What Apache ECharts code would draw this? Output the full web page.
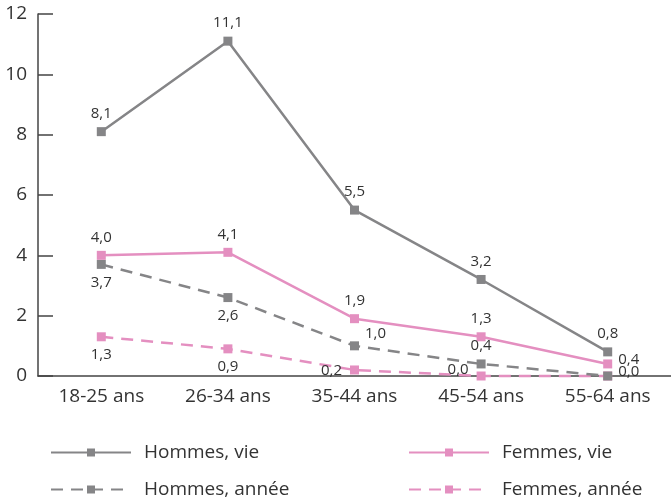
<!DOCTYPE html>
<html>
<head>
<meta charset="utf-8">
<script src="https://cdn.jsdelivr.net/npm/echarts@6/dist/echarts.min.js"></script>
<style>
  html, body { margin: 0; padding: 0; background: #fff; }
  #chart { width: 671px; height: 500px; }
</style>
</head>
<body>
<div id="chart"></div>
<script>
const categories = ['18-25 ans', '26-34 ans', '35-44 ans', '45-54 ans', '55-64 ans']
const hommesVie = [8.1, 11.1, 5.5, 3.2, 0.8]
const femmesVie = [4.0, 4.1, 1.9, 1.3, 0.4]
const hommesAnnee = [3.7, 2.6, 1.0, 0.4, 0.0]
const femmesAnnee = [1.3, 0.9, 0.2, 0.0, 0.0]

const GREY = '#858587'
const PINK = '#e48fc0'
const FONT = 'Open Sans'

// label placement per point (null = hidden)
const placements = {
  hv: ['top', 'top', 'top', 'top', 'top'],
  fv: ['top', 'top', 'top', 'top', 'right'],
  ha: ['bottom', 'bottom', 'topRight', 'top', null],
  fa: ['bottom', 'bottom', 'left', 'topLeft', 'right']
}

const labelFor = (pos) => {
  if (!pos) return { show: false }
  const base = { show: true, color: '#333', fontSize: 15, fontFamily: FONT, distance: 6 }
  if (pos === 'topRight') return { ...base, position: 'right', offset: [0, -12] }
  if (pos === 'topLeft') return { ...base, position: 'left', offset: [-2, -6] }
  if (pos === 'left') return { ...base, position: 'left', offset: [-2, 1] }
  if (pos === 'right') return { ...base, position: 'right', offset: [0, -4] }
  return { ...base, position: pos }
}

const fmt = (v) => v.toFixed(1).replace('.', ',')

const makeSeries = (name, values, color, dashed, key) => ({
  name,
  type: 'line',
  data: values.map((v, i) => ({ value: v, label: labelFor(placements[key][i]) })),
  symbol: 'rect',
  symbolSize: 9,
  clip: false,
  itemStyle: { color },
  lineStyle: { color, width: 2.5, type: dashed ? [12, 8] : 'solid' },
  label: { formatter: (p) => fmt(p.value) },
  emphasis: { disabled: true }
})

const legendAt = (name, left, top) => ({
  data: [name],
  left,
  top,
  itemWidth: 80,
  itemHeight: 10,
  textStyle: { color: '#333', fontSize: 19, fontFamily: FONT, padding: [0, 0, 0, 8] }
})

const chart = echarts.init(document.getElementById('chart'))
chart.setOption({
  animation: false,
  grid: { left: 38, right: 0, top: 14, bottom: 124 },
  xAxis: {
    type: 'category',
    data: categories,
    boundaryGap: true,
    axisLine: { lineStyle: { color: '#444', width: 1.5 } },
    axisTick: { inside: true, length: 8, interval: 0, lineStyle: { color: '#444', width: 1.5 } },
    axisLabel: { color: '#333', fontSize: 19, fontFamily: FONT, margin: 11, interval: 0 }
  },
  yAxis: {
    type: 'value',
    min: 0,
    max: 12,
    interval: 2,
    axisLine: { show: true, lineStyle: { color: '#444', width: 1.5 } },
    axisTick: { show: true, inside: true, length: 15, lineStyle: { color: '#444', width: 1.5 } },
    axisLabel: { color: '#333', fontSize: 19, fontFamily: FONT, margin: 11 },
    splitLine: { show: false }
  },
  legend: [
    legendAt('Hommes, vie', 45, 438),
    legendAt('Hommes, année', 45, 475),
    legendAt('Femmes, vie', 403, 438),
    legendAt('Femmes, année', 403, 475)
  ],
  series: [
    makeSeries('Femmes, année', femmesAnnee, PINK, true, 'fa'),
    makeSeries('Hommes, année', hommesAnnee, GREY, true, 'ha'),
    makeSeries('Femmes, vie', femmesVie, PINK, false, 'fv'),
    makeSeries('Hommes, vie', hommesVie, GREY, false, 'hv')
  ]
})
</script>
</body>
</html>
